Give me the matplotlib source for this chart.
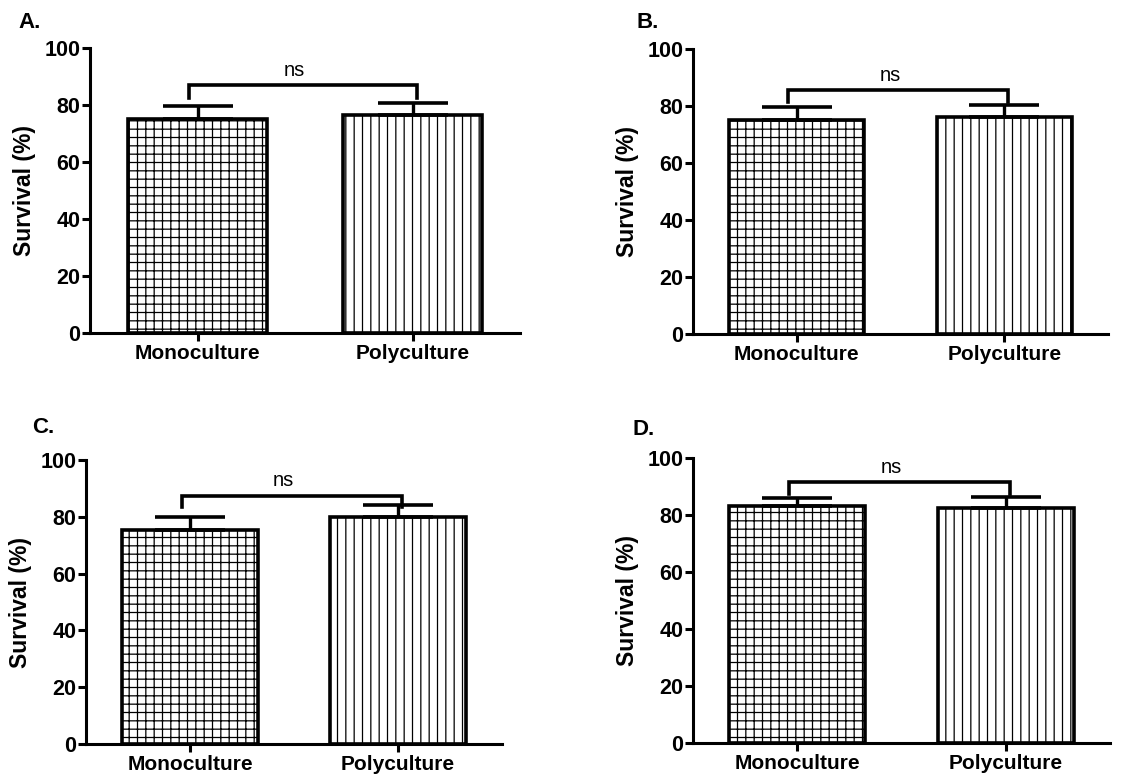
import numpy as np
import matplotlib
matplotlib.use('Agg')
import matplotlib.pyplot as plt

plt.rcParams['font.family'] = ['Liberation Sans', 'DejaVu Sans']
plt.rcParams['hatch.color'] = 'black'
plt.rcParams['hatch.linewidth'] = 0.9

# data
panel_labels = ['A.', 'B.', 'C.', 'D.']
categories = ['Monoculture', 'Polyculture']
mono_mean = [75.0, 75.0, 75.5, 83.0]
mono_err = [4.5, 4.5, 4.5, 3.0]
poly_mean = [76.5, 76.0, 80.0, 82.5]
poly_err = [4.3, 4.5, 4.0, 3.8]
bracket_y = [87.0, 85.5, 87.5, 91.5]
bracket_drop = [4.5, 4.0, 4.0, 4.0]
sig_text = ['ns', 'ns', 'ns', 'ns']
yticks = [0, 20, 40, 60, 80, 100]

W, H = 1123, 782
fig = plt.figure(figsize=(W / 100, H / 100), dpi=100)

# axes boxes in pixels: left, right, y of 0, y of 100
boxes = [(90, 520, 333, 48), (693, 1108, 334, 49),
         (86, 502, 744, 460), (693, 1110, 743, 458)]
label_pos = [(18, 28), (636, 28), (32, 433), (633, 435)]

for i in range(4):
    l, r, b, t = boxes[i]
    ax = fig.add_axes([l / W, 1 - b / H, (r - l) / W, (b - t) / H])
    x = np.arange(len(categories))
    means = [mono_mean[i], poly_mean[i]]
    errs = [mono_err[i], poly_err[i]]
    bars = ax.bar(x, means, width=0.65, color='white', edgecolor='black',
                  linewidth=2.6, zorder=2)
    bars[0].set_hatch('++')
    bars[1].set_hatch('||')
    ax.errorbar(x, means, yerr=[[0, 0], errs], fmt='none', ecolor='black',
                elinewidth=2.4, capsize=25, capthick=2.6, zorder=3)

    # significance bracket
    yb = bracket_y[i]
    xl, xr = -0.04, 1.02
    ax.plot([xl, xl, xr, xr], [yb - bracket_drop[i], yb, yb, yb - bracket_drop[i]],
            color='black', lw=2.6, solid_joinstyle='miter', clip_on=False, zorder=4)
    ax.text(0.45, yb + 1.8, sig_text[i], ha='center', va='bottom', fontsize=14.5)

    ax.set_xlim(-0.5, 1.5)
    ax.set_ylim(0, 100)
    ax.set_yticks(yticks)
    ax.set_xticks(x)
    ax.set_xticklabels(categories, fontsize=15, fontweight='bold')
    ax.set_yticklabels([str(v) for v in yticks], fontsize=15.5, fontweight='bold')
    ax.set_ylabel('Survival (%)', fontsize=16.5, fontweight='bold', labelpad=6)
    for s in ['top', 'right']:
        ax.spines[s].set_visible(False)
    for s in ['left', 'bottom']:
        ax.spines[s].set_linewidth(2.2)
    ax.tick_params(axis='y', direction='out', length=6, width=2.2, pad=1)
    ax.tick_params(axis='x', direction='out', length=6, width=2.2, pad=2)

    fig.text(label_pos[i][0] / W, 1 - label_pos[i][1] / H, panel_labels[i],
             fontsize=16, fontweight='bold', ha='left', va='baseline')

fig.savefig('out.png', dpi=100)
